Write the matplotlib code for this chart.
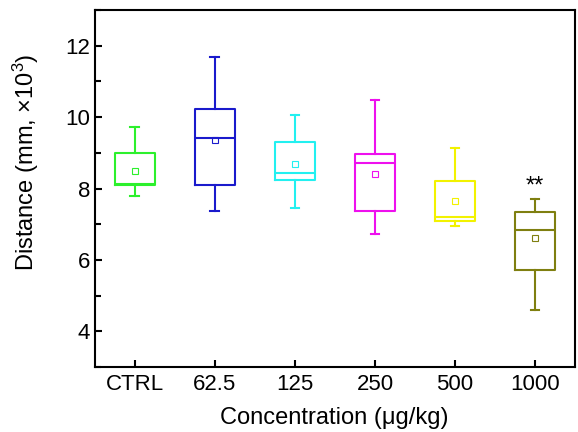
import matplotlib
matplotlib.use('Agg')
import matplotlib.pyplot as plt
from matplotlib.ticker import MultipleLocator

plt.rcParams['font.family'] = ['Liberation Sans', 'DejaVu Sans']
plt.rcParams['mathtext.fontset'] = 'custom'
plt.rcParams['mathtext.rm'] = 'Liberation Sans'
plt.rcParams['mathtext.it'] = 'Liberation Sans'

# box stats (distance, mm x 10^3)
groups = ['CTRL', '62.5', '125', '250', '500', '1000']
whislo = [7.79, 7.36, 7.46, 6.74, 6.94, 4.59]
q1 = [8.10, 8.10, 8.24, 7.37, 7.10, 5.72]
med = [8.12, 9.42, 8.44, 8.71, 7.20, 6.84]
q3 = [8.99, 10.22, 9.30, 8.97, 8.20, 7.34]
whishi = [9.73, 11.69, 10.07, 10.49, 9.13, 7.70]
means = [8.49, 9.35, 8.68, 8.42, 7.65, 6.62]
colors = ['#2cf02c', '#1a1acc', '#22f0f0', '#ee10ee', '#f2f200', '#7f7f10']

fig = plt.figure(figsize=(5.78, 4.32), dpi=100)
ax = fig.add_subplot(1, 1, 1)
fig.subplots_adjust(left=0.164, right=0.995, bottom=0.150, top=0.977)

for i in range(len(groups)):
    stats = [{'whislo': whislo[i], 'q1': q1[i], 'med': med[i], 'q3': q3[i],
              'whishi': whishi[i], 'mean': means[i], 'fliers': []}]
    c = colors[i]
    ax.bxp(stats, positions=[i + 1], widths=0.5, showmeans=True,
           capwidths=0.11,
           boxprops=dict(color=c, linewidth=1.5),
           medianprops=dict(color=c, linewidth=1.5),
           whiskerprops=dict(color=c, linewidth=1.5),
           capprops=dict(color=c, linewidth=1.5),
           meanprops=dict(marker='s', markerfacecolor='none',
                          markeredgecolor=c, markersize=4, markeredgewidth=0.8))

# significance mark
ax.text(6, whishi[5] + 0.05, '**', ha='center', va='bottom', fontsize=17)

ax.set_xlim(0.5, 6.5)
ax.set_ylim(3, 13)
ax.set_xticks(range(1, len(groups) + 1))
ax.set_xticklabels(groups)
ax.yaxis.set_major_locator(MultipleLocator(2))
ax.yaxis.set_minor_locator(MultipleLocator(1))
ax.set_yticks([4, 6, 8, 10, 12])
ax.tick_params(axis='both', which='major', direction='in', length=5, width=1.5,
               labelsize=16, top=False, right=False)
ax.tick_params(axis='x', which='major', pad=5)
ax.tick_params(axis='y', which='minor', direction='in', length=4, width=1.5)
for sp in ax.spines.values():
    sp.set_linewidth(1.5)

ax.set_xlabel('Concentration (μg/kg)', fontsize=17)
ax.set_ylabel('Distance (mm, $\\times$10$^3$)', fontsize=17)
ax.xaxis.set_label_coords(0.499, -0.112)
ax.yaxis.set_label_coords(-0.113, 0.574)

fig.savefig('out.png', dpi=100)
